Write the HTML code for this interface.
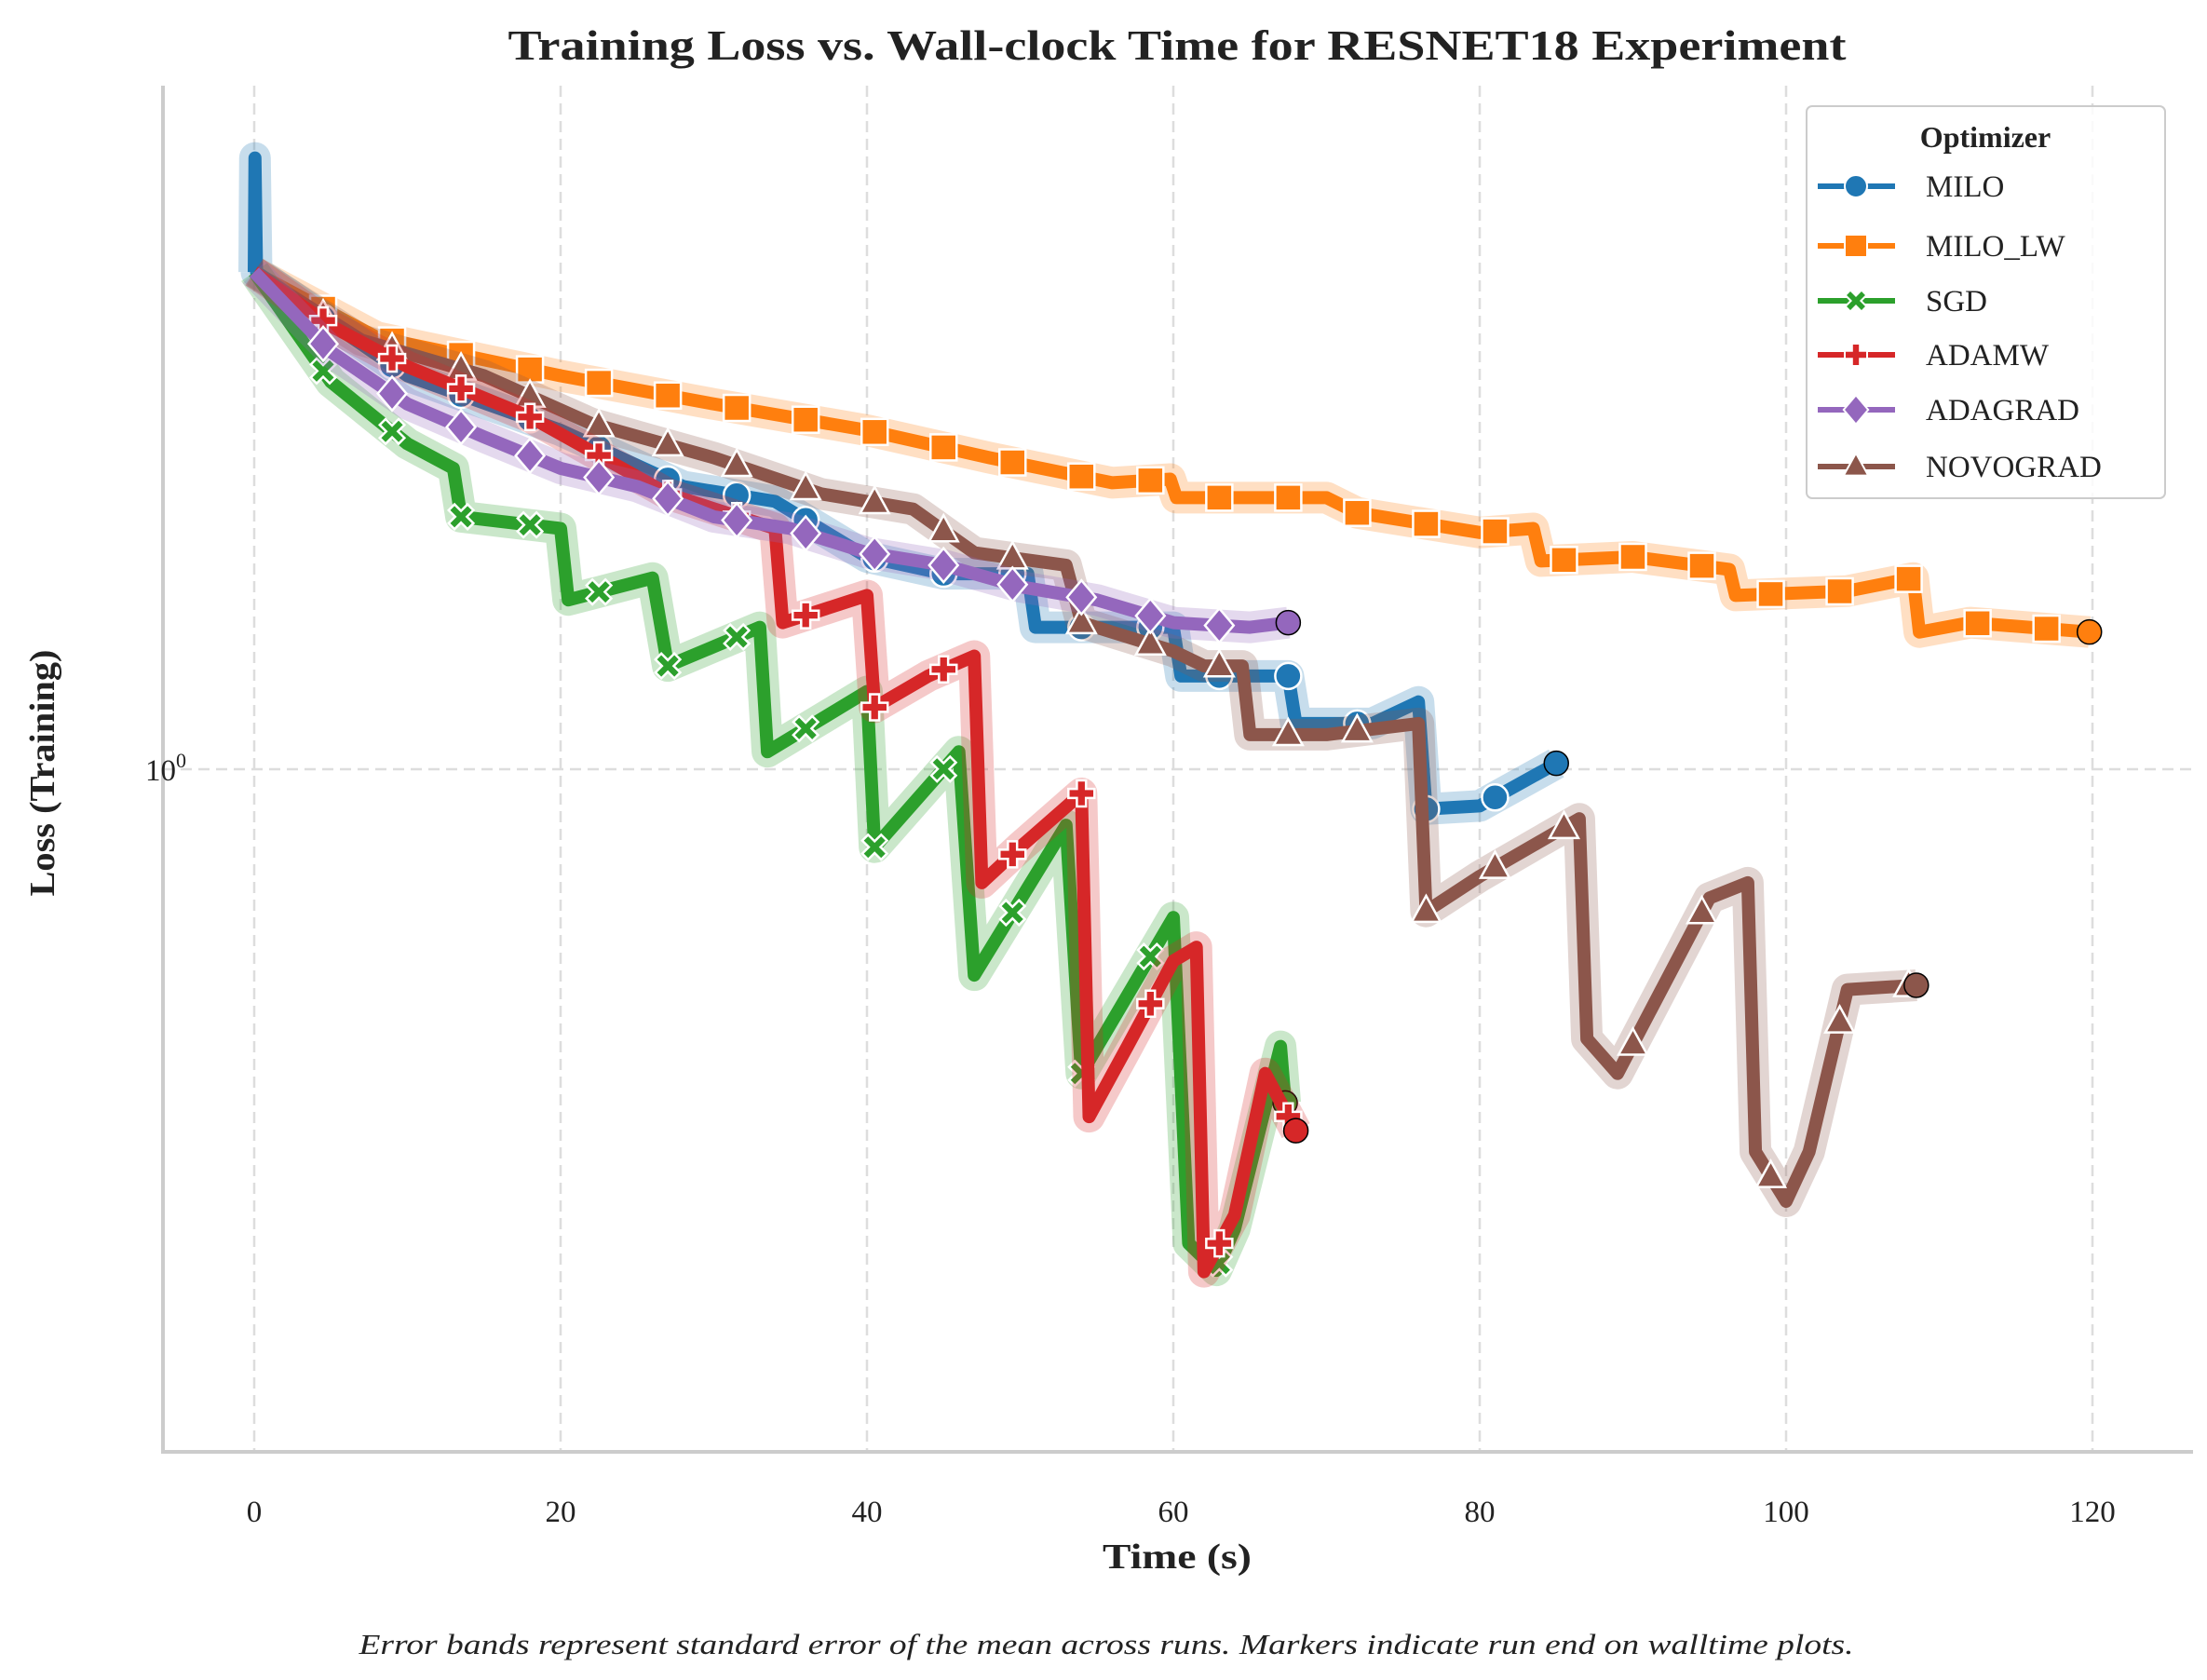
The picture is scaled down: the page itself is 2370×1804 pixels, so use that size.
<!DOCTYPE html>
<html><head><meta charset="utf-8"><style>
html,body{margin:0;padding:0;background:#fff}
svg{display:block;font-family:"Liberation Serif",serif}
</style></head><body>
<svg id="chart" width="2370" height="1804" viewBox="0 0 2370 1804" xmlns="http://www.w3.org/2000/svg">
<text x="1264" y="64" text-anchor="middle" font-size="46" font-weight="bold" textLength="1437" lengthAdjust="spacingAndGlyphs" fill="#222">Training Loss vs. Wall-clock Time for RESNET18 Experiment</text>
<g id="grid"></g>
<g id="series"></g>
<line x1="175" y1="92" x2="175" y2="1559" stroke="#ccc" stroke-width="4"/>
<line x1="173" y1="1559" x2="2355" y2="1559" stroke="#ccc" stroke-width="4"/>
<g id="ticks"></g>
<text x="1264" y="1684" text-anchor="middle" font-size="38" font-weight="bold" fill="#222" textLength="160" lengthAdjust="spacingAndGlyphs">Time (s)</text>
<text transform="translate(58,830) rotate(-90)" text-anchor="middle" font-size="38" font-weight="bold" fill="#222" textLength="265" lengthAdjust="spacingAndGlyphs">Loss (Training)</text>
<text x="1188" y="1776" text-anchor="middle" font-size="31" font-style="italic" fill="#222" textLength="1605" lengthAdjust="spacingAndGlyphs">Error bands represent standard error of the mean across runs. Markers indicate run end on walltime plots.</text>
<g id="legend">
<rect x="1940" y="114" width="385" height="421" rx="6" fill="#fff" fill-opacity="0.85" stroke="#ccc" stroke-width="2"/>
<text x="2132" y="158" text-anchor="middle" font-size="32" font-weight="bold" fill="#222">Optimizer</text>
</g>
</svg>
<script>
const names = ["MILO","MILO_LW","SGD","ADAMW","ADAGRAD","NOVOGRAD"];
const colors = ["#1f77b4","#ff7f0e","#2ca02c","#d62728","#9467bd","#8c564b"];
const milo = [[0,2.31],[0.05,2.8],[0.15,2.31],[10,1.94],[20,1.77],[28,1.61],[34,1.57],[40,1.43],[45,1.39],[50.5,1.39],[51,1.27],[60,1.27],[60.5,1.17],[67.5,1.17],[68,1.08],[73,1.08],[76,1.12],[76.5,0.935],[80,0.94],[85,1.01]];
const miloLw = [[0,2.31],[8,2.07],[20,1.94],[30,1.85],[40,1.77],[48,1.69],[56,1.62],[59.8,1.63],[60.2,1.58],[70,1.58],[72,1.54],[80,1.49],[83.5,1.50],[84,1.42],[90,1.43],[96.3,1.40],[96.7,1.34],[104,1.35],[108.3,1.38],[108.7,1.26],[112,1.28],[119.8,1.26]];
const sgd = [[0,2.31],[5,1.92],[10,1.73],[13,1.66],[13.5,1.53],[20,1.50],[20.5,1.33],[26,1.38],[27,1.19],[33,1.27],[33.5,1.03],[40,1.14],[40.5,0.877],[46,1.03],[47,0.707],[53,0.91],[54,0.599],[60,0.779],[61,0.45],[62.8,0.43],[64,0.461],[67,0.627],[67.3,0.57]];
const adamw = [[0,2.31],[5,2.11],[10,1.97],[18,1.81],[27,1.59],[34,1.50],[34.5,1.28],[40,1.34],[40.5,1.11],[44,1.17],[47,1.21],[47.5,0.826],[50,0.877],[54,0.96],[54.5,0.557],[57,0.627],[60,0.724],[61.5,0.741],[62,0.429],[64,0.472],[66,0.599],[68,0.544]];
const adagrad = [[0,2.31],[5,2.02],[10,1.85],[15,1.75],[20,1.66],[25,1.61],[30,1.53],[35,1.50],[40,1.44],[45,1.41],[50,1.36],[55,1.33],[60,1.28],[65,1.27],[67.5,1.28]];
const novograd = [[0,2.31],[7,2.06],[15,1.94],[22,1.79],[30,1.69],[37,1.59],[43,1.55],[47,1.44],[53,1.41],[54,1.28],[60,1.22],[62,1.19],[64.5,1.19],[65,1.06],[70,1.06],[76,1.08],[76.5,0.787],[80,0.835],[86.5,0.92],[87,0.635],[89,0.599],[95,0.805],[97.5,0.826],[98,0.525],[100,0.483],[101.5,0.525],[104,0.69],[108.5,0.695]];
const xTicks = [0,20,40,60,80,100,120];
const yTicks = [1];
const NS="http://www.w3.org/2000/svg";
const X = t => 273 + 16.45*t;
const Y = v => 826 - 1468*Math.log10(v);
function mk(tag, attrs, parent){const e=document.createElementNS(NS,tag);for(const k in attrs)e.setAttribute(k,attrs[k]);parent.appendChild(e);return e;}
const grid=document.getElementById('grid'), ticks=document.getElementById('ticks'), sg=document.getElementById('series'), lg=document.getElementById('legend');
xTicks.forEach(t=>{
  const l=mk('line',{x1:X(t),x2:X(t),y1:92,y2:1559,stroke:'#ddd','stroke-width':2.5,'stroke-dasharray':'12,7'},grid);
  
  
  const tx=mk('text',{x:X(t),y:1634,'text-anchor':'middle','font-size':33,fill:'#222'},ticks);
  tx.textContent=t;
  
  
});
yTicks.forEach(v=>{
  const l=mk('line',{x1:175,x2:2355,y1:Y(v),y2:Y(v),stroke:'#ddd','stroke-width':2.5,'stroke-dasharray':'12,7'},grid);
  
  
  const tx=mk('text',{x:200,y:Y(v)+12,'text-anchor':'end','font-size':33,fill:'#222'},ticks);
  tx.innerHTML='10<tspan dy="-14" font-size="22">0</tspan>';
  
  
});
function interp(d,t){for(let i=1;i<d.length;i++){if(t<=d[i][0]){const a=d[i-1],b=d[i];const f=(t-a[0])/(b[0]-a[0]||1);return Math.pow(10,Math.log10(a[1])+f*(Math.log10(b[1])-Math.log10(a[1])));}}return d[d.length-1][1];}
function marker(kind,cx,cy,r,fill,stroke,sw,parent){
  let e;
  if(kind==='o') e=mk('circle',{cx,cy,r},parent);
  else if(kind==='s') e=mk('rect',{x:cx-r,y:cy-r,width:2*r,height:2*r},parent);
  else if(kind==='D') e=mk('polygon',{points:`${cx},${cy-r*1.3} ${cx+r*1.1},${cy} ${cx},${cy+r*1.3} ${cx-r*1.1},${cy}`},parent);
  else if(kind==='^') e=mk('polygon',{points:`${cx},${cy-r*1.2} ${cx+r*1.1},${cy+r*0.8} ${cx-r*1.1},${cy+r*0.8}`},parent);
  else if(kind==='x'){const a=r*0.95,w=r*0.45;e=mk('path',{d:`M${cx-a},${cy-a+w} L${cx-a+w},${cy-a} L${cx},${cy-w} L${cx+a-w},${cy-a} L${cx+a},${cy-a+w} L${cx+w},${cy} L${cx+a},${cy+a-w} L${cx+a-w},${cy+a} L${cx},${cy+w} L${cx-a+w},${cy+a} L${cx-a},${cy+a-w} L${cx-w},${cy} Z`},parent);}
  else {const a=r,w=r*0.35;e=mk('path',{d:`M${cx-w},${cy-a} H${cx+w} V${cy-w} H${cx+a} V${cy+w} H${cx+w} V${cy+a} H${cx-w} V${cy+w} H${cx-a} V${cy-w} H${cx-w} Z`},parent);}
  e.setAttribute('fill',fill);e.setAttribute('stroke',stroke);e.setAttribute('stroke-width',sw);
  return e;
}
const kinds=['o','s','x','+','D','^'];
const datasets=[milo,miloLw,sgd,adamw,adagrad,novograd];
const order=[1,0,5,2,3,4];
order.forEach(i=>{
  const d=datasets[i], c=colors[i];
  const g=mk('g',{},sg);
  
  
  const pts=d.map(p=>X(p[0]).toFixed(1)+','+Y(p[1]).toFixed(1)).join(' ');
  const band=mk('polyline',{points:pts,fill:'none',stroke:c,'stroke-opacity':0.25,'stroke-width':34,'stroke-linejoin':'round'},g);
  
  
  const line=mk('polyline',{points:pts,fill:'none',stroke:c,'stroke-width':14,'stroke-linejoin':'round'},g);
  
  
  const tEnd=d[d.length-1][0];
  for(let t=4.5;t<tEnd-0.3;t+=4.5){
    const m=marker(kinds[i],X(t),Y(interp(d,t)),14,c,'#fff',2.5,g);
    
    
  }
  const em=marker('o',X(tEnd),Y(d[d.length-1][1]),13,c,'#000',1.5,g);
  
  
});
const ly=[200,264,323,381,440,501];
names.forEach((n,i)=>{
  const g=mk('g',{},lg);
  
  
  mk('line',{x1:1952,x2:2035,y1:ly[i],y2:ly[i],stroke:colors[i],'stroke-width':6},g);
  marker(kinds[i],1993,ly[i],12,colors[i],'#fff',2,g);
  const tx=mk('text',{x:2068,y:ly[i]+11,'font-size':33,fill:'#222'},g);
  tx.textContent=n;
});
</script>
</body></html>
